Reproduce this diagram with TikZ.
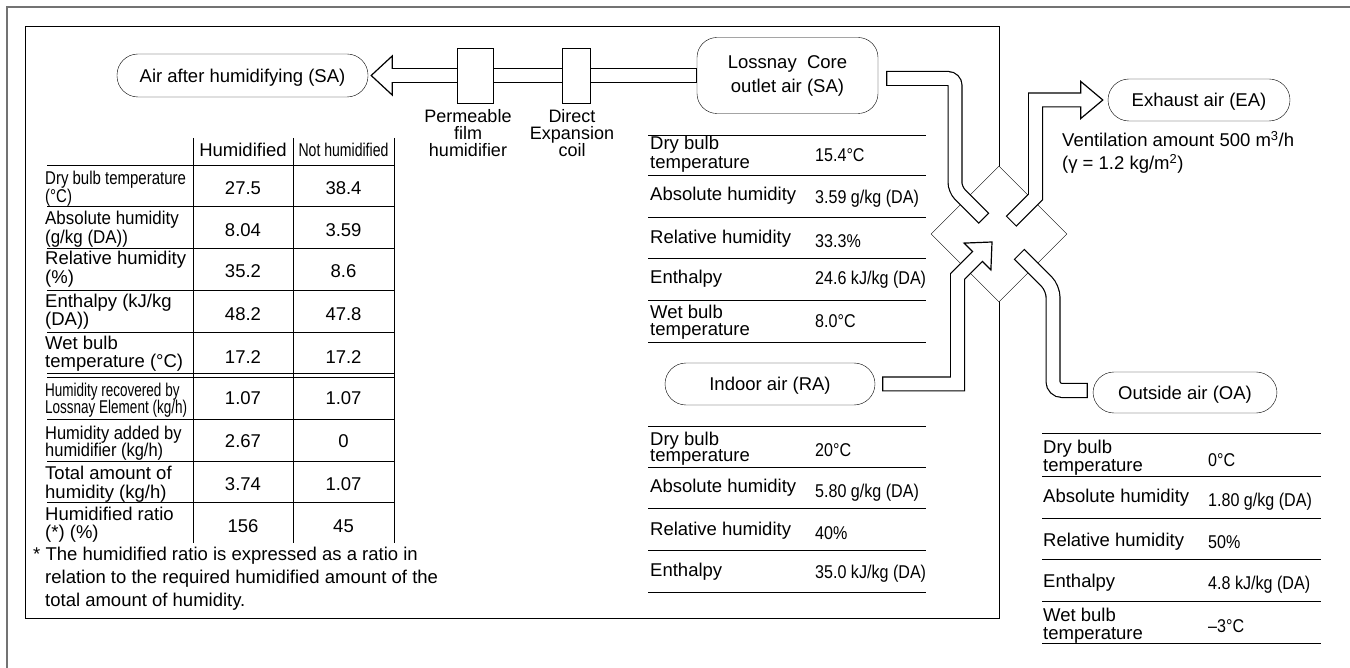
\documentclass[tikz,border=0pt]{standalone}
\usepackage{fontspec}
\setmainfont{Liberation Sans}
\usepackage{graphicx}
\usetikzlibrary{shapes.geometric,calc}
\pgfdeclarelayer{back}
\pgfdeclarelayer{pipes}
\pgfsetlayers{back,pipes,main}
\newcommand\cnd[2]{\scalebox{#1}[1]{#2}}
\newcommand\tightlines{\lineskiplimit=-30pt\relax\lineskip=0pt\relax}
\tikzset{
  txt/.style={font=\fontsize{18.5}{19}\selectfont, inner sep=0pt},
  lbl/.style={txt, anchor=base west},
  ctr/.style={txt, anchor=base},
  tight/.style={inner sep=0pt, align=center, anchor=north, font={\fontsize{18}{16.8}\selectfont\tightlines}},
  pillbase/.style={draw, fill=white, rounded corners=#1, inner sep=0pt, font=\fontsize{18.5}{24}\selectfont},
  pillbase/.default=21pt,
  pill/.style={pillbase=#1, text height=14pt, text depth=0pt},
  pill/.default=21pt,
  unitbox/.style={draw, fill=white, inner sep=0pt, minimum height=55pt},
  pipeo/.style={draw=black, line width=15pt, line join=miter},
  pipei/.style={draw=white, line width=12.6pt, line join=miter, shorten <=1.2pt, shorten >=1.2pt},
  headst/.style={draw=black, fill=white, line width=1.2pt, line join=miter},
}
\begin{document}
\begin{tikzpicture}[x=1pt, y=-1pt, line width=1.2pt]
\useasboundingbox (0,0) rectangle (1350,668);

\begin{pgfonlayer}{back}
  \draw[draw=black!55, line width=1.6pt] (7,668) -- (7,7) -- (1350,7);
  \draw (25,26) rectangle (999,618);
  \node[draw, fill=white, diamond, aspect=1, minimum width=136pt, minimum height=136pt, inner sep=0pt] (core) at (999,234) {};
\end{pgfonlayer}

% pills and units
\node[pill, minimum width=251pt, minimum height=43pt] (sa) at (242.5,75.5) {Air after humidifying (SA)};
\node[pillbase=20pt, minimum width=181pt, minimum height=76pt, align=center] (lossnay) at (787.5,75.5) {Lossnay\ \ Core\\outlet air (SA)};
\node[pill, minimum width=182pt, minimum height=42pt] (ea) at (1199,100) {Exhaust air (EA)};
\node[pill, minimum width=210pt, minimum height=42pt] (ra) at (770,384) {Indoor air (RA)};
\node[pill, minimum width=184pt, minimum height=41pt] (oa) at (1185,392.5) {Outside air (OA)};
\node[unitbox, minimum width=36pt] (hum) at (475,75.5) {};
\node[unitbox, minimum width=28pt] (coil) at (576,75.5) {};

\begin{pgfonlayer}{pipes}
  % SA arrow
  \draw[pipeo] (lossnay.west) -- ($(sa.east)+(24,0)$);
  \draw[headst] ($(sa.east)+(24,-19.5)$) -- ($(sa.east)+(3,0)$) -- ($(sa.east)+(24,19.5)$) -- cycle;
  \draw[pipei, shorten >=-2pt] (lossnay.west) -- ($(sa.east)+(24,0)$);
  % Lossnay outlet -> core
  \draw[pipeo, rounded corners=7pt] ($(lossnay.east)+(8,3)$) -- (955,78.5) -- (955,189.5) -- ($(core.center)+(-15,-15.5)$);
  \draw[pipei, rounded corners=7pt] ($(lossnay.east)+(8,3)$) -- (955,78.5) -- (955,189.5) -- ($(core.center)+(-15,-15.5)$);
  % core -> EA
  \draw[pipeo] ($(core.center)+(12,-12.5)$) -- (1035.5,197) -- (1035.5,100) -- ($(ea.west)+(-27,0)$);
  \draw[headst] ($(ea.west)+(-27,-18.5)$) -- ($(ea.west)+(-5,0)$) -- ($(ea.west)+(-27,18.5)$) -- cycle;
  \draw[pipei, shorten >=-2pt] ($(core.center)+(12,-12.5)$) -- (1035.5,197) -- (1035.5,100) -- ($(ea.west)+(-27,0)$);
  % RA -> core
  \draw[pipeo] ($(ra.east)+(7,0)$) -- (957.5,384) -- (957.5,276.5) -- ($(core.center)+(-21.5,22.5)$);
  \draw[headst] ($(core.center)+(-34.9,9.1)$) -- ($(core.center)+(-7,8)$) -- ($(core.center)+(-8.1,35.9)$) -- cycle;
  \draw[pipei, shorten >=-2pt] ($(ra.east)+(7,0)$) -- (957.5,384) -- (957.5,276.5) -- ($(core.center)+(-21.5,22.5)$);
  % core -> OA
  \draw[pipeo, rounded corners=9pt] ($(core.center)+(20,20)$) -- (1053,288) -- (1053,390.5) -- ($(oa.west)+(-5,-2)$);
  \draw[pipei, rounded corners=9pt] ($(core.center)+(20,20)$) -- (1053,288) -- (1053,390.5) -- ($(oa.west)+(-5,-2)$);
\end{pgfonlayer}

% unit labels
\node[tight] (plbl) at (468,109.2) {Permeable\\film\\humidifier};
\node[tight] (dlbl) at (572,109.2) {Direct\\Expansion\\coil};

% ventilation note
\node[lbl] (v1) at (1062,146.7) {Ventilation amount 500 m\textsuperscript{3}/h};
\node[lbl] (v2) at (1062,170) {(γ = 1.2 kg/m\textsuperscript{2})};

% ---------- left table ----------
\foreach \x in {193,293,394} \draw (\x,138) -- (\x,543);
\foreach \y in {165,206,248,290,332,373,377,419,461,502} \draw (47,\y) -- (394,\y);
\node[ctr] (hA) at (243,157) {Humidified};
\node[ctr] (hB) at (343.5,157) {\cnd{0.76}{Not humidified}};

\node[lbl] (a1) at (45,185) {\cnd{0.81}{Dry bulb temperature}};
\node[lbl] (a2) at (45,203) {\cnd{0.81}{(°C)}};
\node[ctr] (a3) at (243,195) {27.5};
\node[ctr] (a4) at (343.5,195) {38.4};

\node[lbl] (b1) at (45,225) {\cnd{0.915}{Absolute humidity}};
\node[lbl] (b2) at (45,244) {\cnd{0.915}{(g/kg (DA))}};
\node[ctr] (b3) at (243,237) {8.04};
\node[ctr] (b4) at (343.5,237) {3.59};

\node[lbl] (c1) at (45,265) {Relative humidity};
\node[lbl] (c2) at (45,284) {(\%)};
\node[ctr] (c3) at (243,278) {35.2};
\node[ctr] (c4) at (343.5,278) {8.6};

\node[lbl] (e1) at (45,307.7) {Enthalpy (kJ/kg};
\node[lbl] (e2) at (45,326) {(DA))};
\node[ctr] (e3) at (243,321) {48.2};
\node[ctr] (e4) at (343.5,321) {47.8};

\node[lbl] (f1) at (45,349.3) {Wet bulb};
\node[lbl] (f2) at (45,368) {temperature (°C)};
\node[ctr] (f3) at (243,363) {17.2};
\node[ctr] (f4) at (343.5,363) {17.2};

\node[lbl] (g1) at (45,396.7) {\cnd{0.73}{Humidity recovered by}};
\node[lbl] (g2) at (45,413.3) {\cnd{0.73}{Lossnay Element (kg/h)}};
\node[ctr] (g3) at (243,405) {1.07};
\node[ctr] (g4) at (343.5,405) {1.07};

\node[lbl] (k1) at (45,439.3) {\cnd{0.89}{Humidity added by}};
\node[lbl] (k2) at (45,456.7) {\cnd{0.89}{humidifier (kg/h)}};
\node[ctr] (k3) at (243,447) {2.67};
\node[ctr] (k4) at (343.5,447) {0};

\node[lbl] (m1) at (45,479.3) {Total amount of};
\node[lbl] (m2) at (45,498.3) {humidity (kg/h)};
\node[ctr] (m3) at (243,490) {3.74};
\node[ctr] (m4) at (343.5,490) {1.07};

\node[lbl] (n1) at (45,520) {Humidified ratio};
\node[lbl] (n2) at (45,538.3) {(*) (\%)};
\node[ctr] (n3) at (243,532) {156};
\node[ctr] (n4) at (343.5,532) {45};

\node[lbl] (fn1) at (33,560) {* The humidified ratio is expressed as a ratio in};
\node[lbl] (fn2) at (45,583.3) {relation to the required humidified amount of the};
\node[lbl] (fn3) at (45,606.7) {total amount of humidity.};

% ---------- Lossnay outlet table ----------
\foreach \y in {135,175,217,258,300,342} \draw (648,\y) -- (926,\y);
\node[lbl] (s1) at (650,150) {Dry bulb};
\node[lbl] (s2) at (650,168.3) {temperature};
\node[lbl] (s3) at (815,161.5) {\cnd{0.87}{15.4°C}};
\node[lbl] (s4) at (650,200.7) {Absolute humidity};
\node[lbl] (s5) at (815,203.3) {\cnd{0.87}{3.59 g/kg (DA)}};
\node[lbl] (s6) at (650,244) {Relative humidity};
\node[lbl] (s7) at (815,247.3) {\cnd{0.87}{33.3\%}};
\node[lbl] (s8) at (650,284) {Enthalpy};
\node[lbl] (s9) at (815,285) {\cnd{0.87}{24.6 kJ/kg (DA)}};
\node[lbl] (s10) at (650,318.3) {Wet bulb};
\node[lbl] (s11) at (650,335.7) {temperature};
\node[lbl] (s12) at (815,327.3) {\cnd{0.87}{8.0°C}};

% ---------- Indoor air table ----------
\foreach \y in {426,467,508,550,592} \draw (648,\y) -- (926,\y);
\node[lbl] (i1) at (650,445) {Dry bulb};
\node[lbl] (i2) at (650,461.7) {temperature};
\node[lbl] (i3) at (815,456) {\cnd{0.87}{20°C}};
\node[lbl] (i4) at (650,492.7) {Absolute humidity};
\node[lbl] (i5) at (815,497.3) {\cnd{0.87}{5.80 g/kg (DA)}};
\node[lbl] (i6) at (650,535) {Relative humidity};
\node[lbl] (i7) at (815,539) {\cnd{0.87}{40\%}};
\node[lbl] (i8) at (650,576.7) {Enthalpy};
\node[lbl] (i9) at (815,578.3) {\cnd{0.87}{35.0 kJ/kg (DA)}};

% ---------- Outside air table ----------
\foreach \y in {433,476,518,559,601,643} \draw (1042,\y) -- (1321,\y);
\node[lbl] (o1) at (1043,453.3) {Dry bulb};
\node[lbl] (o2) at (1043,471.7) {temperature};
\node[lbl] (o3) at (1208,466) {\cnd{0.87}{0°C}};
\node[lbl] (o4) at (1043,502.7) {Absolute humidity};
\node[lbl] (o5) at (1208,506.7) {\cnd{0.87}{1.80 g/kg (DA)}};
\node[lbl] (o6) at (1043,546) {Relative humidity};
\node[lbl] (o7) at (1208,548.3) {\cnd{0.87}{50\%}};
\node[lbl] (o8) at (1043,587.3) {Enthalpy};
\node[lbl] (o9) at (1208,589.3) {\cnd{0.87}{4.8 kJ/kg (DA)}};
\node[lbl] (o10) at (1043,621.7) {Wet bulb};
\node[lbl] (o11) at (1043,639.3) {temperature};
\node[lbl] (o12) at (1208,632.7) {\cnd{0.87}{–3°C}};
\end{tikzpicture}
\end{document}
